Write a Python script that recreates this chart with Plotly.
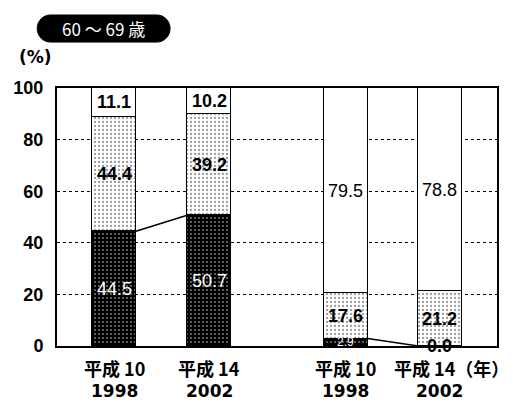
import plotly.graph_objects as go

# Share of each group (%), 60-69 age bracket, two survey years, two panels
era_labels = ["平成 10", "平成 14", "平成 10", "平成 14（年）"]
year_labels = ["1998", "2002", "1998", "2002"]
bottom_vals = [44.5, 50.7, 2.9, 0.0]
middle_vals = [44.4, 39.2, 17.6, 21.2]
top_vals = [11.1, 10.2, 79.5, 78.8]
y_ticks = [0, 20, 40, 60, 80, 100]

# bar centres: two pairs separated by a wider gap
bar_x = [0.0, 1.0, 2.44, 3.43]
bar_w = 0.46

num_font = "Liberation Sans"
jp_font = "Noto Sans CJK JP"

fig = go.Figure()

fig.add_trace(go.Bar(
    x=bar_x, y=bottom_vals, width=bar_w,
    marker=dict(color="black", line=dict(color="black", width=1.5),
                pattern=dict(shape=".", fgcolor="white", bgcolor="black",
                             size=4, solidity=0.18)),
    hoverinfo="skip", showlegend=False))
fig.add_trace(go.Bar(
    x=bar_x, y=middle_vals, width=bar_w,
    marker=dict(color="white", line=dict(color="black", width=1.5),
                pattern=dict(shape=".", fgcolor="#333", bgcolor="white",
                             size=4, solidity=0.25)),
    hoverinfo="skip", showlegend=False))
fig.add_trace(go.Bar(
    x=bar_x, y=top_vals, width=bar_w,
    marker=dict(color="white", line=dict(color="black", width=1.5)),
    hoverinfo="skip", showlegend=False))

# connector lines between the tops of the dark segments within each pair
for a, b in [(0, 1), (2, 3)]:
    fig.add_trace(go.Scatter(
        x=[bar_x[a] + bar_w / 2, bar_x[b] - bar_w / 2],
        y=[bottom_vals[a], bottom_vals[b]],
        mode="lines", line=dict(color="black", width=1.5),
        hoverinfo="skip", showlegend=False))

annotations = []

# value labels at segment midpoints
for i in range(len(bar_x)):
    b, m, t = bottom_vals[i], middle_vals[i], top_vals[i]
    # dark segment
    if b >= 10:
        annotations.append(dict(x=bar_x[i], y=b / 2, text=f"{b:.1f}",
                                font=dict(family=num_font, size=18, color="white"),
                                showarrow=False))
    elif b > 0:
        annotations.append(dict(x=bar_x[i], y=b / 2, text=f"{b:.1f}",
                                font=dict(family=num_font, size=12, color="white"),
                                showarrow=False))
    else:
        annotations.append(dict(x=bar_x[i], y=b, text=f"<b>{b:.1f}</b>",
                                font=dict(family=num_font, size=18, color="black"),
                                showarrow=False))
    # stippled segment
    annotations.append(dict(x=bar_x[i], y=b + m / 2, text=f"<b>{m:.1f}</b>",
                            font=dict(family=num_font, size=18, color="black"),
                            showarrow=False))
    # white segment
    top_text = f"<b>{t:.1f}</b>" if t < 20 else f"{t:.1f}"
    annotations.append(dict(x=bar_x[i], y=b + m + t / 2, text=top_text,
                            font=dict(family=num_font, size=18, color="black"),
                            showarrow=False))

# two-line category labels under the axis
for i in range(len(bar_x)):
    is_last = i == len(bar_x) - 1
    annotations.append(dict(
        x=bar_x[i], y=0, yref="y", yshift=-22,
        xanchor="left" if is_last else "center",
        xshift=-48 if is_last else 0,
        text=f"<b>{era_labels[i]}</b>",
        font=dict(family=jp_font, size=18, color="black"),
        showarrow=False))
    annotations.append(dict(
        x=bar_x[i], y=0, yref="y", yshift=-45,
        text=f"<b>{year_labels[i]}</b>",
        font=dict(family="DejaVu Sans", size=17, color="black"),
        showarrow=False))

# unit label
annotations.append(dict(
    x=-0.05, y=1.12, xref="paper", yref="paper", xanchor="center", yanchor="middle",
    text="<b>(%)</b>", font=dict(family="DejaVu Sans", size=17, color="black"),
    showarrow=False))

# age bracket badge text
annotations.append(dict(
    x=0.106, y=1.231, xref="paper", yref="paper", xanchor="center", yanchor="middle",
    text="60 ～ 69 歳", font=dict(family=jp_font, size=17, color="white"),
    showarrow=False))

# pill-shaped badge (paper coordinates)
x0, x1 = -0.045, 0.257
y0, y1 = 1.178, 1.283
rx = 0.030
k = 0.5523
ym = (y0 + y1) / 2
ry = (y1 - y0) / 2
badge_path = (
    f"M {x0 + rx} {y1} L {x1 - rx} {y1} "
    f"C {x1 - rx + k * rx} {y1} {x1} {ym + k * ry} {x1} {ym} "
    f"C {x1} {ym - k * ry} {x1 - rx + k * rx} {y0} {x1 - rx} {y0} "
    f"L {x0 + rx} {y0} "
    f"C {x0 + rx - k * rx} {y0} {x0} {ym - k * ry} {x0} {ym} "
    f"C {x0} {ym + k * ry} {x0 + rx - k * rx} {y1} {x0 + rx} {y1} Z"
)

fig.update_layout(
    width=513, height=402,
    margin=dict(l=57, r=16, t=88, b=56),
    paper_bgcolor="white", plot_bgcolor="white",
    barmode="stack", bargap=0,
    annotations=annotations,
    shapes=[dict(type="path", xref="paper", yref="paper", path=badge_path,
                 fillcolor="black", line=dict(color="black", width=1))],
    xaxis=dict(range=[bar_x[0] - 0.6, bar_x[-1] + 0.6], showticklabels=False,
               showgrid=False, zeroline=False, ticks="",
               showline=True, linecolor="black", linewidth=2, mirror=True),
    yaxis=dict(range=[0, 100], tickvals=y_ticks, ticks="",
               tickfont=dict(family=num_font, size=18, color="black", weight="bold"),
               ticklabelstandoff=8,
               showgrid=True, gridcolor="black", gridwidth=1, griddash="dot",
               zeroline=False,
               showline=True, linecolor="black", linewidth=2, mirror=True),
)

fig.write_html("out.html")
